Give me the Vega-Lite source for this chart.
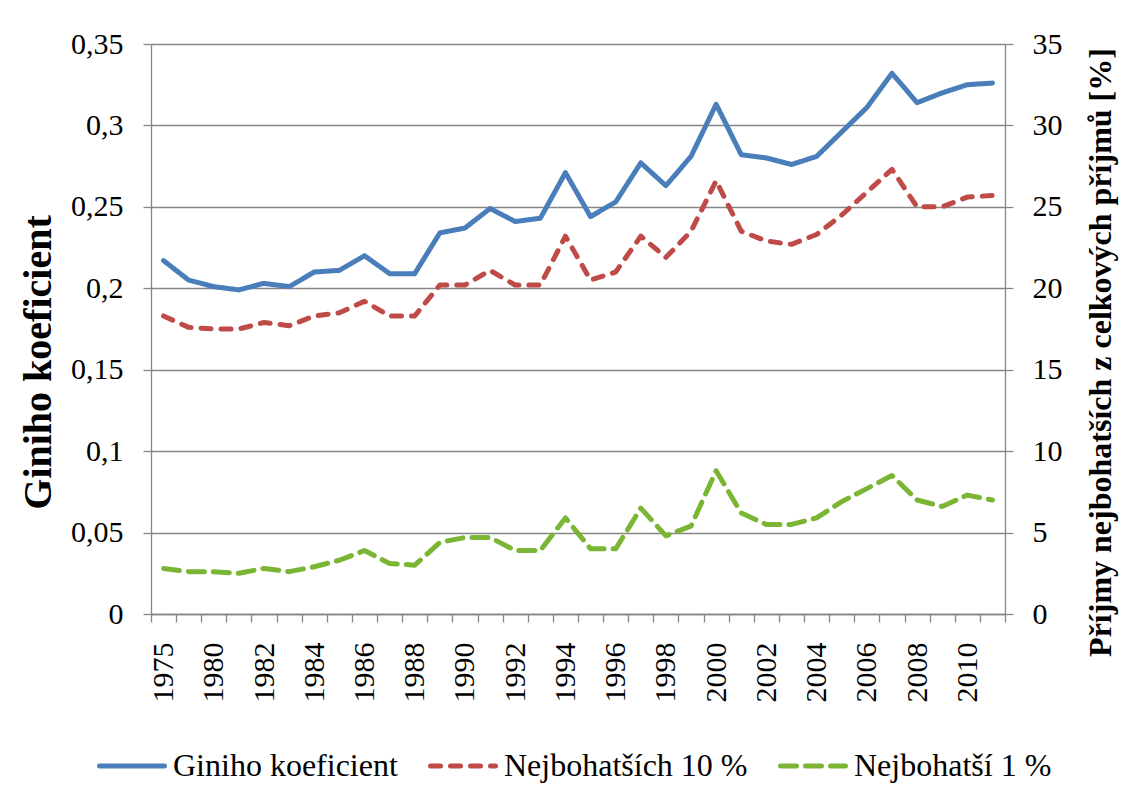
{
  "$schema": "https://vega.github.io/schema/vega-lite/v6.json",
  "width": 854,
  "height": 570,
  "autosize": {"type": "none"},
  "padding": {"left": 151, "top": 44, "right": 116, "bottom": 182},
  "background": "white",
  "config": {
    "font": "Liberation Serif",
    "view": {"stroke": null},
    "axis": {
      "labelFont": "Liberation Serif",
      "titleFont": "Liberation Serif",
      "labelColor": "black",
      "titleColor": "black",
      "domainColor": "#868686",
      "tickColor": "#868686",
      "domainWidth": 1.3,
      "tickWidth": 1.3,
      "tickSize": 8,
      "labelFontSize": 30,
      "labelFontWeight": "normal"
    },
    "legend": {
      "labelFont": "Liberation Serif",
      "labelFontSize": 32,
      "labelColor": "black"
    }
  },
  "data": {
    "values": [
      {"year": "1975", "series": "Giniho koeficient", "value": 0.217},
      {"year": "1979", "series": "Giniho koeficient", "value": 0.205},
      {"year": "1980", "series": "Giniho koeficient", "value": 0.201},
      {"year": "1981", "series": "Giniho koeficient", "value": 0.199},
      {"year": "1982", "series": "Giniho koeficient", "value": 0.203},
      {"year": "1983", "series": "Giniho koeficient", "value": 0.201},
      {"year": "1984", "series": "Giniho koeficient", "value": 0.210},
      {"year": "1985", "series": "Giniho koeficient", "value": 0.211},
      {"year": "1986", "series": "Giniho koeficient", "value": 0.220},
      {"year": "1987", "series": "Giniho koeficient", "value": 0.209},
      {"year": "1988", "series": "Giniho koeficient", "value": 0.209},
      {"year": "1989", "series": "Giniho koeficient", "value": 0.234},
      {"year": "1990", "series": "Giniho koeficient", "value": 0.237},
      {"year": "1991", "series": "Giniho koeficient", "value": 0.249},
      {"year": "1992", "series": "Giniho koeficient", "value": 0.241},
      {"year": "1993", "series": "Giniho koeficient", "value": 0.243},
      {"year": "1994", "series": "Giniho koeficient", "value": 0.271},
      {"year": "1995", "series": "Giniho koeficient", "value": 0.244},
      {"year": "1996", "series": "Giniho koeficient", "value": 0.253},
      {"year": "1997", "series": "Giniho koeficient", "value": 0.277},
      {"year": "1998", "series": "Giniho koeficient", "value": 0.263},
      {"year": "1999", "series": "Giniho koeficient", "value": 0.281},
      {"year": "2000", "series": "Giniho koeficient", "value": 0.313},
      {"year": "2001", "series": "Giniho koeficient", "value": 0.282},
      {"year": "2002", "series": "Giniho koeficient", "value": 0.280},
      {"year": "2003", "series": "Giniho koeficient", "value": 0.276},
      {"year": "2004", "series": "Giniho koeficient", "value": 0.281},
      {"year": "2005", "series": "Giniho koeficient", "value": 0.296},
      {"year": "2006", "series": "Giniho koeficient", "value": 0.311},
      {"year": "2007", "series": "Giniho koeficient", "value": 0.332},
      {"year": "2008", "series": "Giniho koeficient", "value": 0.314},
      {"year": "2009", "series": "Giniho koeficient", "value": 0.320},
      {"year": "2010", "series": "Giniho koeficient", "value": 0.325},
      {"year": "2011", "series": "Giniho koeficient", "value": 0.326},
      {"year": "1975", "series": "Nejbohatších 10 %", "value": 18.3},
      {"year": "1979", "series": "Nejbohatších 10 %", "value": 17.6},
      {"year": "1980", "series": "Nejbohatších 10 %", "value": 17.5},
      {"year": "1981", "series": "Nejbohatších 10 %", "value": 17.5},
      {"year": "1982", "series": "Nejbohatších 10 %", "value": 17.9},
      {"year": "1983", "series": "Nejbohatších 10 %", "value": 17.7},
      {"year": "1984", "series": "Nejbohatších 10 %", "value": 18.3},
      {"year": "1985", "series": "Nejbohatších 10 %", "value": 18.5},
      {"year": "1986", "series": "Nejbohatších 10 %", "value": 19.2},
      {"year": "1987", "series": "Nejbohatších 10 %", "value": 18.3},
      {"year": "1988", "series": "Nejbohatších 10 %", "value": 18.3},
      {"year": "1989", "series": "Nejbohatších 10 %", "value": 20.2},
      {"year": "1990", "series": "Nejbohatších 10 %", "value": 20.2},
      {"year": "1991", "series": "Nejbohatších 10 %", "value": 21.1},
      {"year": "1992", "series": "Nejbohatších 10 %", "value": 20.2},
      {"year": "1993", "series": "Nejbohatších 10 %", "value": 20.2},
      {"year": "1994", "series": "Nejbohatších 10 %", "value": 23.2},
      {"year": "1995", "series": "Nejbohatších 10 %", "value": 20.5},
      {"year": "1996", "series": "Nejbohatších 10 %", "value": 21.0},
      {"year": "1997", "series": "Nejbohatších 10 %", "value": 23.2},
      {"year": "1998", "series": "Nejbohatších 10 %", "value": 21.9},
      {"year": "1999", "series": "Nejbohatších 10 %", "value": 23.5},
      {"year": "2000", "series": "Nejbohatších 10 %", "value": 26.6},
      {"year": "2001", "series": "Nejbohatších 10 %", "value": 23.5},
      {"year": "2002", "series": "Nejbohatších 10 %", "value": 22.9},
      {"year": "2003", "series": "Nejbohatších 10 %", "value": 22.7},
      {"year": "2004", "series": "Nejbohatších 10 %", "value": 23.3},
      {"year": "2005", "series": "Nejbohatších 10 %", "value": 24.5},
      {"year": "2006", "series": "Nejbohatších 10 %", "value": 25.9},
      {"year": "2007", "series": "Nejbohatších 10 %", "value": 27.3},
      {"year": "2008", "series": "Nejbohatších 10 %", "value": 25.0},
      {"year": "2009", "series": "Nejbohatších 10 %", "value": 25.0},
      {"year": "2010", "series": "Nejbohatších 10 %", "value": 25.6},
      {"year": "2011", "series": "Nejbohatších 10 %", "value": 25.7},
      {"year": "1975", "series": "Nejbohatší 1 %", "value": 2.8},
      {"year": "1979", "series": "Nejbohatší 1 %", "value": 2.6},
      {"year": "1980", "series": "Nejbohatší 1 %", "value": 2.6},
      {"year": "1981", "series": "Nejbohatší 1 %", "value": 2.5},
      {"year": "1982", "series": "Nejbohatší 1 %", "value": 2.8},
      {"year": "1983", "series": "Nejbohatší 1 %", "value": 2.6},
      {"year": "1984", "series": "Nejbohatší 1 %", "value": 2.9},
      {"year": "1985", "series": "Nejbohatší 1 %", "value": 3.3},
      {"year": "1986", "series": "Nejbohatší 1 %", "value": 3.9},
      {"year": "1987", "series": "Nejbohatší 1 %", "value": 3.1},
      {"year": "1988", "series": "Nejbohatší 1 %", "value": 3.0},
      {"year": "1989", "series": "Nejbohatší 1 %", "value": 4.4},
      {"year": "1990", "series": "Nejbohatší 1 %", "value": 4.7},
      {"year": "1991", "series": "Nejbohatší 1 %", "value": 4.7},
      {"year": "1992", "series": "Nejbohatší 1 %", "value": 3.9},
      {"year": "1993", "series": "Nejbohatší 1 %", "value": 3.9},
      {"year": "1994", "series": "Nejbohatší 1 %", "value": 5.9},
      {"year": "1995", "series": "Nejbohatší 1 %", "value": 4.0},
      {"year": "1996", "series": "Nejbohatší 1 %", "value": 4.0},
      {"year": "1997", "series": "Nejbohatší 1 %", "value": 6.5},
      {"year": "1998", "series": "Nejbohatší 1 %", "value": 4.8},
      {"year": "1999", "series": "Nejbohatší 1 %", "value": 5.4},
      {"year": "2000", "series": "Nejbohatší 1 %", "value": 8.8},
      {"year": "2001", "series": "Nejbohatší 1 %", "value": 6.2},
      {"year": "2002", "series": "Nejbohatší 1 %", "value": 5.5},
      {"year": "2003", "series": "Nejbohatší 1 %", "value": 5.5},
      {"year": "2004", "series": "Nejbohatší 1 %", "value": 5.9},
      {"year": "2005", "series": "Nejbohatší 1 %", "value": 6.9},
      {"year": "2006", "series": "Nejbohatší 1 %", "value": 7.7},
      {"year": "2007", "series": "Nejbohatší 1 %", "value": 8.5},
      {"year": "2008", "series": "Nejbohatší 1 %", "value": 7.0},
      {"year": "2009", "series": "Nejbohatší 1 %", "value": 6.6},
      {"year": "2010", "series": "Nejbohatší 1 %", "value": 7.3},
      {"year": "2011", "series": "Nejbohatší 1 %", "value": 7.0}
    ]
  },
  "encoding": {
    "x": {
      "field": "year",
      "type": "ordinal",
      "bandPosition": 0.5,
      "scale": {"type": "band", "paddingInner": 0, "paddingOuter": 0},
      "axis": {
        "title": null,
        "grid": false,
        "labelAngle": -90,
        "labelAlign": "right",
        "labelBaseline": "middle",
        "tickBand": "extent",
        "labelPadding": 20,
        "labelOverlap": false,
        "labelExpr": "indexof(['1975','1980','1982','1984','1986','1988','1990','1992','1994','1996','1998','2000','2002','2004','2006','2008','2010'], datum.label) >= 0 ? datum.label : ''"
      }
    },
    "color": {
      "field": "series",
      "type": "nominal",
      "scale": {
        "domain": ["Giniho koeficient", "Nejbohatších 10 %", "Nejbohatší 1 %"],
        "range": ["#4A7EBB", "#BE4B48", "#7AB534"]
      },
      "legend": {
        "title": null,
        "orient": "none",
        "legendX": -54,
        "legendY": 687,
        "direction": "horizontal",
        "symbolType": "stroke",
        "symbolSize": 4225,
        "symbolStrokeWidth": 5,
        "labelOffset": 6,
        "columnPadding": 22,
        "labelLimit": 400,
        "encode": {
          "symbols": {
            "enter": {
              "strokeDash": {"signal": "datum.value === 'Nejbohatší 1 %' ? [16, 22] : (datum.value === 'Nejbohatších 10 %' ? [10, 12] : [1, 0])"}
            },
            "update": {
              "strokeCap": {"value": "round"},
              "strokeDash": {"signal": "datum.value === 'Nejbohatší 1 %' ? [16, 22] : (datum.value === 'Nejbohatších 10 %' ? [10, 12] : [1, 0])"}
            }
          }
        }
      }
    },
    "strokeDash": {
      "field": "series",
      "type": "nominal",
      "scale": {
        "domain": ["Giniho koeficient", "Nejbohatších 10 %", "Nejbohatší 1 %"],
        "range": [[1, 0], [10, 10], [16, 9]]
      },
      "legend": null
    }
  },
  "layer": [
    {
      "transform": [{"filter": "datum.series === 'Giniho koeficient'"}],
      "mark": {"type": "line", "strokeWidth": 5, "strokeCap": "round", "strokeJoin": "round"},
      "encoding": {
        "y": {
          "field": "value",
          "type": "quantitative",
          "scale": {"domain": [0, 0.35], "nice": false, "zero": true},
          "axis": {
            "orient": "left",
            "values": [0, 0.05, 0.1, 0.15, 0.2, 0.25, 0.3, 0.35],
            "labelExpr": "replace(format(datum.value, '.2~f'), '.', ',')",
            "labelPadding": 20,
            "grid": true,
            "gridColor": "#868686",
            "gridWidth": 1.3,
            "title": "Giniho koeficient",
            "titleFontSize": 40,
            "titleFontWeight": "bold",
            "titleAngle": -90,
            "titleAlign": "center",
            "titleBaseline": "middle",
            "titleX": -113,
            "titleY": 318
          }
        }
      }
    },
    {
      "transform": [{"filter": "datum.series !== 'Giniho koeficient'"}],
      "mark": {"type": "line", "strokeWidth": 5, "strokeCap": "round", "strokeJoin": "round"},
      "encoding": {
        "y": {
          "field": "value",
          "type": "quantitative",
          "scale": {"domain": [0, 35], "nice": false, "zero": true},
          "axis": {
            "orient": "right",
            "values": [0, 5, 10, 15, 20, 25, 30, 35],
            "labelPadding": 19,
            "grid": false,
            "title": "Příjmy nejbohatších z celkových příjmů [%]",
            "titleFontSize": 32,
            "titleFontWeight": "bold",
            "titleAngle": -90,
            "titleAlign": "center",
            "titleBaseline": "middle",
            "titleX": 95,
            "titleY": 308
          }
        }
      }
    }
  ],
  "resolve": {"scale": {"y": "independent"}}
}
